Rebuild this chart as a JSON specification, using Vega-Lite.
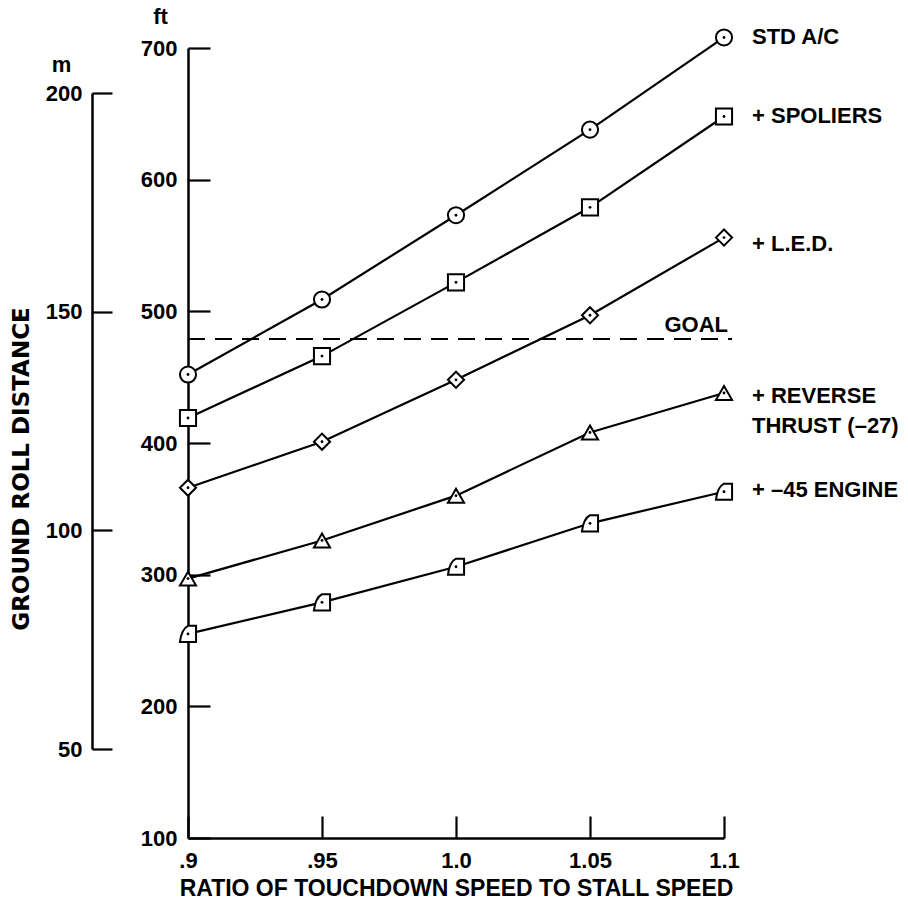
{
  "$schema": "https://vega.github.io/schema/vega-lite/v6.json",
  "width": 536,
  "height": 790,
  "autosize": {"type": "none"},
  "padding": {"left": 188, "top": 48, "right": 184, "bottom": 65},
  "background": "white",
  "config": {
    "view": {"stroke": null},
    "font": "Liberation Sans",
    "axis": {
      "grid": false,
      "labelFont": "Liberation Sans",
      "labelFontSize": 22,
      "labelFontWeight": "bold",
      "labelColor": "black",
      "titleFont": "Liberation Sans",
      "titleFontSize": 22,
      "titleFontWeight": "bold",
      "titleColor": "black",
      "domainColor": "black",
      "domainWidth": 2.5,
      "tickColor": "black",
      "tickWidth": 2.2,
      "labelFlush": false,
      "labelOverlap": false
    }
  },
  "title": {
    "text": "GROUND ROLL DISTANCE",
    "orient": "left",
    "anchor": "middle",
    "font": "DejaVu Sans",
    "fontSize": 23,
    "fontWeight": "bold",
    "color": "black",
    "offset": 11,
    "dx": -26
  },
  "datasets": {
    "series": [
      {"series": "STD A/C", "ratio": 0.9, "ft": 452},
      {"series": "STD A/C", "ratio": 0.95, "ft": 509},
      {"series": "STD A/C", "ratio": 1.0, "ft": 573},
      {"series": "STD A/C", "ratio": 1.05, "ft": 638},
      {"series": "STD A/C", "ratio": 1.1, "ft": 708},
      {"series": "+ SPOLIERS", "ratio": 0.9, "ft": 419},
      {"series": "+ SPOLIERS", "ratio": 0.95, "ft": 466},
      {"series": "+ SPOLIERS", "ratio": 1.0, "ft": 522},
      {"series": "+ SPOLIERS", "ratio": 1.05, "ft": 579},
      {"series": "+ SPOLIERS", "ratio": 1.1, "ft": 648},
      {"series": "+ L.E.D.", "ratio": 0.9, "ft": 366},
      {"series": "+ L.E.D.", "ratio": 0.95, "ft": 401},
      {"series": "+ L.E.D.", "ratio": 1.0, "ft": 448},
      {"series": "+ L.E.D.", "ratio": 1.05, "ft": 497},
      {"series": "+ L.E.D.", "ratio": 1.1, "ft": 556},
      {"series": "+ REVERSE THRUST (–27)", "ratio": 0.9, "ft": 297},
      {"series": "+ REVERSE THRUST (–27)", "ratio": 0.95, "ft": 326},
      {"series": "+ REVERSE THRUST (–27)", "ratio": 1.0, "ft": 360},
      {"series": "+ REVERSE THRUST (–27)", "ratio": 1.05, "ft": 408},
      {"series": "+ REVERSE THRUST (–27)", "ratio": 1.1, "ft": 438},
      {"series": "+ –45 ENGINE", "ratio": 0.9, "ft": 255},
      {"series": "+ –45 ENGINE", "ratio": 0.95, "ft": 279},
      {"series": "+ –45 ENGINE", "ratio": 1.0, "ft": 306},
      {"series": "+ –45 ENGINE", "ratio": 1.05, "ft": 339},
      {"series": "+ –45 ENGINE", "ratio": 1.1, "ft": 363}
    ],
    "labels": [
      {"series": "STD A/C", "label": "STD A/C", "ratio": 1.1, "ft": 708},
      {"series": "+ SPOLIERS", "label": "+ SPOLIERS", "ratio": 1.1, "ft": 648},
      {"series": "+ L.E.D.", "label": "+ L.E.D.", "ratio": 1.1, "ft": 551},
      {"series": "+ REVERSE THRUST (–27)", "label": "+ REVERSE\nTHRUST (–27)", "ratio": 1.1, "ft": 436},
      {"series": "+ –45 ENGINE", "label": "+ –45 ENGINE", "ratio": 1.1, "ft": 364}
    ],
    "goal": [
      {"label": "GOAL", "ratio": 0.9, "ratio2": 1.103, "ft": 479}
    ],
    "goalLabel": [
      {"label": "GOAL", "ratio": 1.1, "ft": 479}
    ],
    "meters": [
      {"m": 50},
      {"m": 200}
    ]
  },
  "layer": [
    {
      "layer": [
        {
          "data": {"name": "series"},
          "mark": {"type": "line", "color": "black", "strokeWidth": 2.2},
          "encoding": {
            "x": {
              "field": "ratio",
              "type": "quantitative",
              "scale": {"domain": [0.9, 1.1], "nice": false, "zero": false},
              "axis": {
                "values": [0.9, 0.95, 1.0, 1.05, 1.1],
                "labelExpr": "datum.value < 0.92 ? '.9' : datum.value < 0.97 ? '.95' : datum.value < 1.02 ? '1.0' : datum.value < 1.07 ? '1.05' : '1.1'",
                "tickSize": -22,
                "labelPadding": 34,
                "title": "RATIO OF TOUCHDOWN SPEED TO STALL SPEED",
                "titleFontSize": 23,
                "titleY": 50,
                "titleBaseline": "middle",
                "titleAnchor": "middle"
              }
            },
            "y": {
              "field": "ft",
              "type": "quantitative",
              "scale": {"domain": [100, 700], "nice": false, "zero": false},
              "axis": {
                "values": [100, 200, 300, 400, 500, 600, 700],
                "tickSize": -22,
                "labelPadding": 33,
                "labelBaseline": "middle",
                "title": "ft",
                "titleAngle": 0,
                "titleX": -28,
                "titleY": -32,
                "titleAlign": "center",
                "titleBaseline": "middle"
              }
            },
            "detail": {"field": "series"}
          }
        },
        {
          "data": {"name": "goal"},
          "mark": {"type": "rule", "color": "black", "strokeWidth": 2.2, "strokeDash": [17, 10], "clip": false},
          "encoding": {
            "x": {"field": "ratio", "type": "quantitative"},
            "x2": {"field": "ratio2"},
            "y": {"field": "ft", "type": "quantitative"}
          }
        },
        {
          "data": {"name": "goalLabel"},
          "mark": {"type": "text", "align": "right", "baseline": "alphabetic", "dx": 4, "dy": -7, "font": "Liberation Sans", "fontSize": 22, "fontWeight": "bold", "color": "black"},
          "encoding": {
            "x": {"field": "ratio", "type": "quantitative"},
            "y": {"field": "ft", "type": "quantitative"},
            "text": {"field": "label"}
          }
        },
        {
          "data": {"name": "series"},
          "mark": {"type": "point", "filled": true, "fill": "white", "stroke": "black", "strokeWidth": 2, "size": 260, "opacity": 1},
          "encoding": {
            "x": {"field": "ratio", "type": "quantitative"},
            "y": {"field": "ft", "type": "quantitative"},
            "shape": {
              "field": "series",
              "type": "nominal",
              "legend": null,
              "scale": {
                "domain": ["STD A/C", "+ SPOLIERS", "+ L.E.D.", "+ REVERSE THRUST (–27)", "+ –45 ENGINE"],
                "range": ["circle", "square", "diamond", "triangle-up", "M -1 1 L 1 1 L 1 -1 L 0 -1 Q -0.8 -0.6 -1 1 Z"]
              }
            }
          }
        },
        {
          "data": {"name": "series"},
          "mark": {"type": "point", "filled": true, "color": "black", "size": 8, "shape": "circle", "opacity": 1},
          "encoding": {
            "x": {"field": "ratio", "type": "quantitative"},
            "y": {"field": "ft", "type": "quantitative"}
          }
        },
        {
          "data": {"name": "labels"},
          "mark": {"type": "text", "align": "left", "baseline": "middle", "dx": 28, "lineBreak": "\n", "lineHeight": 30, "font": "Liberation Sans", "fontSize": 22, "fontWeight": "bold", "color": "black"},
          "encoding": {
            "x": {"field": "ratio", "type": "quantitative"},
            "y": {"field": "ft", "type": "quantitative"},
            "text": {"field": "label"}
          }
        }
      ]
    },
    {
      "data": {"name": "meters"},
      "mark": {"type": "point", "opacity": 0},
      "encoding": {
        "y": {
          "field": "m",
          "type": "quantitative",
          "scale": {"domain": [50, 200], "range": [701, 45], "nice": false, "zero": false},
          "axis": {
            "orient": "left",
            "offset": 96,
            "values": [50, 100, 150, 200],
            "tickSize": -20,
            "labelPadding": 30,
            "labelBaseline": "middle",
            "title": "m",
            "titleAngle": 0,
            "titleX": -31,
            "titleY": 16,
            "titleAlign": "center",
            "titleBaseline": "middle"
          }
        }
      }
    }
  ],
  "resolve": {"scale": {"y": "independent"}, "axis": {"y": "independent"}}
}
